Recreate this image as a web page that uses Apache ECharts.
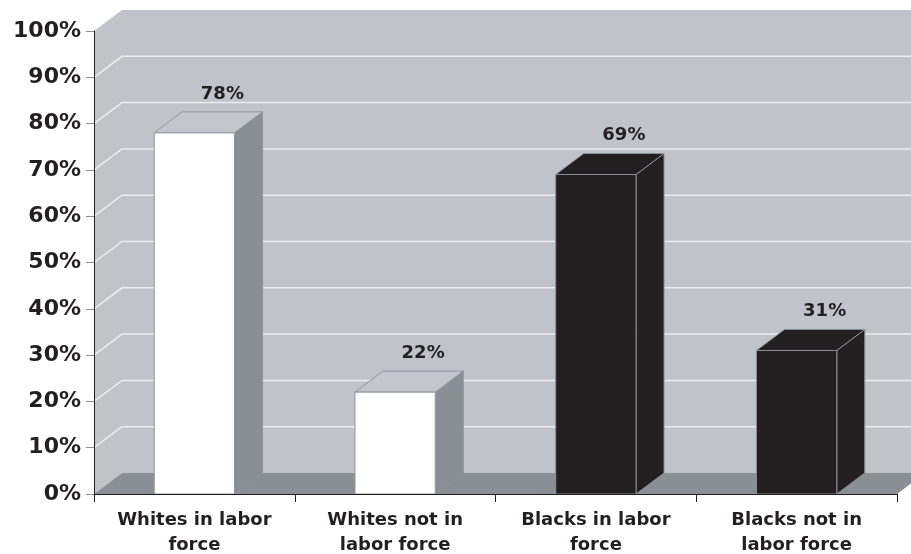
<!DOCTYPE html>
<html>
<head>
<meta charset="utf-8">
<script src="https://cdn.jsdelivr.net/npm/echarts@6/dist/echarts.min.js"></script>
<style>
  html, body { margin: 0; padding: 0; background: #ffffff; }
  #chart { width: 911px; height: 554px; }
</style>
</head>
<body>
<div id="chart"></div>
<script>
// Labor force participation by group
const categories = ['Whites in labor\nforce', 'Whites not in\nlabor force', 'Blacks in labor\nforce', 'Blacks not in\nlabor force'];
const values = [78, 22, 69, 31];
const barColors = ['white', 'white', 'black', 'black'];
const gridTicks = [10, 20, 30, 40, 50, 60, 70, 80, 90, 100];

// 3D depth offset of the back wall, in pixels
const DX = 28, DY = -21;
const TEXT = '#231f20';
const WALL = '#c0c3ca';
const FLOOR = '#8a8f96';
const GRIDLINE = '#eceef1';

const faceStyles = {
  white: { front: '#ffffff', top: '#c3c6cc', side: '#8a8f96', edge: '#8f949b' },
  black: { front: '#231f20', top: '#231f20', side: '#231f20', edge: '#8a8f96' }
};

const chart = echarts.init(document.getElementById('chart'));

function renderWalls(params, api) {
  const cs = params.coordSys;
  const x0 = cs.x, x1 = cs.x + cs.width;
  const yBase = api.coord([0, 0])[1];
  const yTop = api.coord([0, 100])[1];
  const children = [];
  // back wall
  children.push({ type: 'polygon', shape: { points: [[x0 + DX, yTop + DY], [x1 + DX, yTop + DY], [x1 + DX, yBase + DY], [x0 + DX, yBase + DY]] }, style: { fill: WALL } });
  // side wall
  children.push({ type: 'polygon', shape: { points: [[x0, yBase], [x0, yTop], [x0 + DX, yTop + DY], [x0 + DX, yBase + DY]] }, style: { fill: WALL } });
  // floor
  children.push({ type: 'polygon', shape: { points: [[x0, yBase], [x1, yBase], [x1 + DX, yBase + DY], [x0 + DX, yBase + DY]] }, style: { fill: FLOOR } });
  // gridlines on side wall and back wall
  gridTicks.forEach(function (v) {
    if (v >= 100) return;
    const y = api.coord([0, v])[1];
    children.push({ type: 'polyline', shape: { points: [[x0, y], [x0 + DX, y + DY], [x1 + DX, y + DY]] }, style: { stroke: GRIDLINE, lineWidth: 1.5, fill: null } });
  });
  return { type: 'group', children: children };
}

function renderBar(params, api) {
  const idx = api.value(0);
  const val = api.value(1);
  const top = api.coord([idx, val]);
  const base = api.coord([idx, 0]);
  const band = api.size([1, 0])[0];
  const half = band * 0.2;
  const xa = top[0] - half, xb = top[0] + half;
  const yt = top[1], yb = base[1];
  const st = faceStyles[barColors[idx]];
  return {
    type: 'group',
    children: [
      { type: 'polygon', shape: { points: [[xb, yt], [xb + DX, yt + DY], [xb + DX, yb + DY], [xb, yb]] }, style: { fill: st.side, stroke: st.edge, lineWidth: 1 } },
      { type: 'polygon', shape: { points: [[xa, yt], [xa + DX, yt + DY], [xb + DX, yt + DY], [xb, yt]] }, style: { fill: st.top, stroke: st.edge, lineWidth: 1 } },
      { type: 'rect', shape: { x: xa, y: yt, width: xb - xa, height: yb - yt }, style: { fill: st.front, stroke: st.edge, lineWidth: 1 } },
      { type: 'text', style: { text: val + '%', x: top[0] + DX, y: yt + DY - 9, align: 'center', verticalAlign: 'bottom', fill: TEXT, font: 'bold 18px "DejaVu Sans"' } }
    ]
  };
}

chart.setOption({
  animation: false,
  backgroundColor: '#ffffff',
  grid: { left: 94, right: 14, top: 31, bottom: 60, containLabel: false, outerBoundsMode: 'none' },
  xAxis: {
    type: 'category',
    data: categories,
    z: 5,
    axisLine: { show: true, lineStyle: { color: '#231f20', width: 1 } },
    axisTick: { show: true, length: 8, lineStyle: { color: '#231f20' } },
    axisLabel: { margin: 14, color: TEXT, fontFamily: 'DejaVu Sans', fontWeight: 'bold', fontSize: 18, lineHeight: 25 },
    splitLine: { show: false }
  },
  yAxis: {
    type: 'value',
    min: 0, max: 100, interval: 10,
    z: 5,
    axisLine: { show: true, lineStyle: { color: '#231f20', width: 1 } },
    axisTick: { show: true, length: 8, lineStyle: { color: '#8a8f96' } },
    axisLabel: { margin: 13, color: TEXT, fontFamily: 'DejaVu Sans', fontWeight: 'bold', fontSize: 22, formatter: '{value}%' },
    splitLine: { show: false }
  },
  series: [
    { type: 'custom', z: 1, silent: true, renderItem: renderWalls, data: [[0, 0]] },
    { type: 'custom', z: 3, renderItem: renderBar, data: values.map(function (v, i) { return [i, v]; }) }
  ]
});
</script>
</body>
</html>
